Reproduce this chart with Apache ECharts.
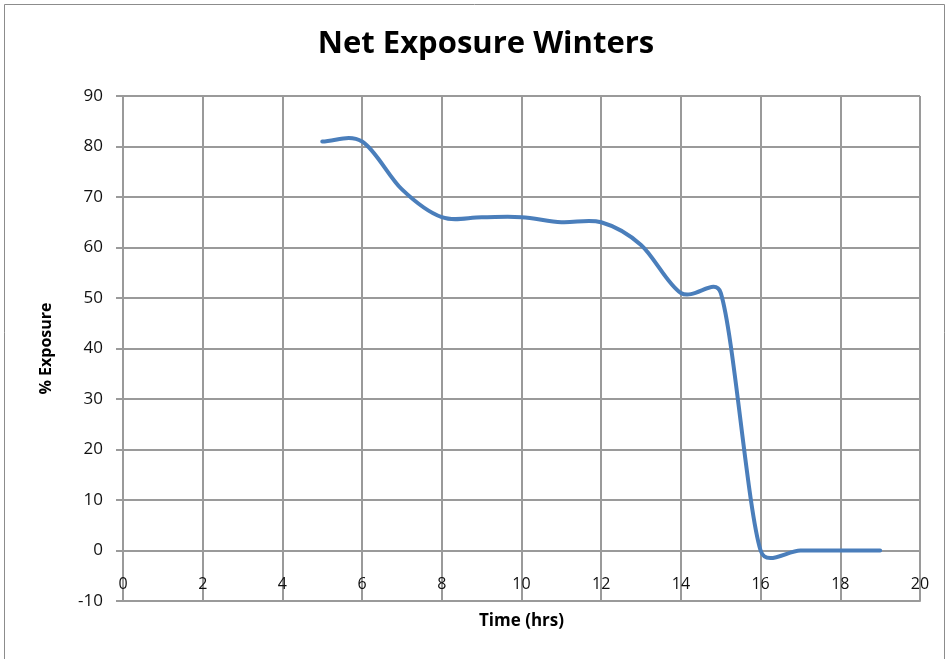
<!DOCTYPE html>
<html>
<head>
<meta charset="utf-8">
<title>Net Exposure Winters</title>
<script src="https://cdn.jsdelivr.net/npm/echarts@6/dist/echarts.min.js"></script>
<style>
  html, body { margin: 0; padding: 0; background: #ffffff; }
  #chart { width: 947px; height: 659px; }
</style>
</head>
<body>
<div id="chart"></div>
<script>
// Hours of the day and the net exposure (%) at each hour
const hours = [5, 6, 7, 8, 9, 10, 11, 12, 13, 14, 15, 16, 17, 18, 19];
const exposure = [81, 81, 71.5, 66, 66, 66, 65, 65, 60.5, 51, 51, 0, 0, 0, 0];

const titleText = 'Net Exposure Winters';
const xName = 'Time (hrs)';
const yName = '% Exposure';

const points = hours.map((h, i) => [h, exposure[i]]);

const font = '"Open Sans", "Liberation Sans", sans-serif';
const gridColor = '#9a9a9a';
const lineColor = '#4a7ebb';
const smoothness = 0.5;

// Limit a control-point offset so it never reaches past a third of the
// horizontal span of its segment (keeps the curve free of loops).
function limitOffset(ox, oy, segDx) {
  const maxX = Math.abs(segDx) / 3;
  if (Math.abs(ox) > maxX && ox !== 0) {
    const k = maxX / Math.abs(ox);
    return [ox * k, oy * k];
  }
  return [ox, oy];
}

// Smoothed path through the pixel positions of the data points.
// Control points follow the neighbouring chord, weighted by segment length,
// so the curve may swing slightly past flat runs.
function smoothPath(px) {
  const n = px.length;
  const outCp = [], inCp = [];
  for (let i = 0; i < n; i++) {
    const cur = px[i];
    const prev = px[i > 0 ? i - 1 : i];
    const next = px[i < n - 1 ? i + 1 : i];
    const vx = next[0] - prev[0], vy = next[1] - prev[1];
    const lp = Math.hypot(cur[0] - prev[0], cur[1] - prev[1]);
    const ln = Math.hypot(next[0] - cur[0], next[1] - cur[1]);
    const r = (lp + ln) > 0 ? ln / (lp + ln) : 0.5;
    const o = limitOffset(vx * smoothness * r, vy * smoothness * r, next[0] - cur[0]);
    const b = limitOffset(vx * smoothness * (1 - r), vy * smoothness * (1 - r), cur[0] - prev[0]);
    outCp.push([cur[0] + o[0], cur[1] + o[1]]);
    inCp.push([cur[0] - b[0], cur[1] - b[1]]);
  }
  let d = 'M' + px[0][0] + ' ' + px[0][1];
  for (let i = 0; i < n - 1; i++) {
    d += ' C' + outCp[i][0] + ' ' + outCp[i][1] + ' ' +
      inCp[i + 1][0] + ' ' + inCp[i + 1][1] + ' ' +
      px[i + 1][0] + ' ' + px[i + 1][1];
  }
  return d;
}

const chart = echarts.init(document.getElementById('chart'), null, { renderer: 'canvas' });
chart.setOption({
  backgroundColor: '#ffffff',
  animation: false,
  graphic: [{
    type: 'rect',
    shape: { x: 4.5, y: 4.5, width: 940, height: 680 },
    style: { fill: 'none', stroke: '#8c8c8c', lineWidth: 1 },
    silent: true
  }],
  title: {
    text: titleText,
    left: 481,
    textAlign: 'center',
    top: 24,
    textStyle: { fontFamily: font, fontSize: 31, fontWeight: 'bold', color: '#000000' }
  },
  grid: { left: 123, right: 27, top: 96, bottom: 58, containLabel: false, outerBoundsMode: 'none' },
  xAxis: {
    type: 'value',
    min: 0, max: 20, interval: 2,
    name: xName,
    nameLocation: 'middle',
    nameGap: 12,
    nameTextStyle: { fontFamily: font, fontSize: 17, fontWeight: 'bold', color: '#000000' },
    axisLine: { show: true, onZero: false, lineStyle: { color: gridColor, width: 2 } },
    axisTick: { show: false },
    axisLabel: { fontFamily: font, fontSize: 16, color: '#111111', margin: -25 },
    splitLine: { show: true, lineStyle: { color: gridColor, width: 2 } }
  },
  yAxis: {
    type: 'value',
    min: -10, max: 90, interval: 10,
    name: yName,
    nameLocation: 'middle',
    nameGap: 69,
    nameTextStyle: { fontFamily: font, fontSize: 16, fontWeight: 'bold', color: '#000000' },
    axisLine: { show: true, lineStyle: { color: gridColor, width: 2 } },
    axisTick: { show: true, length: 7, lineStyle: { color: gridColor, width: 2 } },
    axisLabel: { fontFamily: font, fontSize: 17, color: '#111111', margin: 20 },
    splitLine: { show: true, lineStyle: { color: gridColor, width: 2 } }
  },
  series: [{
    type: 'custom',
    data: points,
    clip: false,
    renderItem: function (params, api) {
      if (params.dataIndex !== 0) return null;
      const px = hours.map((h, i) => api.coord([h, exposure[i]]));
      return {
        type: 'path',
        shape: { pathData: smoothPath(px) },
        style: { fill: 'none', stroke: lineColor, lineWidth: 4, lineCap: 'round', lineJoin: 'round' }
      };
    }
  }]
});
</script>
</body>
</html>
